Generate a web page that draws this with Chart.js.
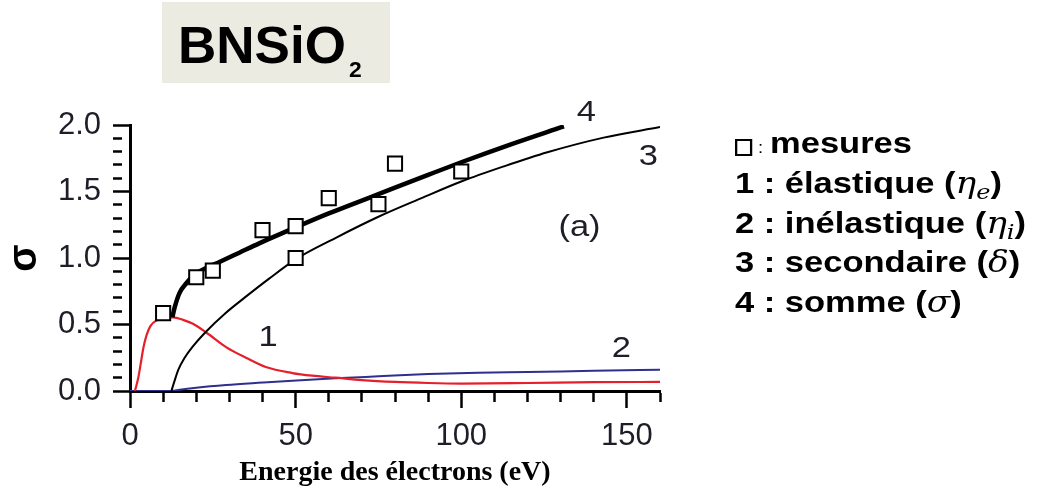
<!DOCTYPE html>
<html>
<head>
<meta charset="utf-8">
<script src="https://cdn.jsdelivr.net/npm/chart.js@4/dist/chart.umd.min.js"></script>
<style>
  html, body { margin: 0; padding: 0; background: #fff; }
  #wrap { position: relative; width: 1051px; height: 493px; overflow: hidden; }
  #c { position: absolute; left: 0; top: 0; }
  .badge { position: absolute; left: 162px; top: 2px; width: 228px; height: 81px; background: #ECEBE1; }
  .badge .t { position: absolute; left: 16px; top: 18px; white-space: nowrap;
    font: bold 51px/51px "Liberation Sans", Arial, sans-serif; color: #000;
    transform: scaleX(1.04); transform-origin: 0 0; }
  .badge .t .sub { font-size: 22px; vertical-align: -14px; margin-left: 3px; }
  .leg { position: absolute; left: 735px; height: 40px; line-height: 40px; white-space: nowrap;
    font: bold 30px/40px "Liberation Sans", Arial, sans-serif; color: #000;
    transform: scaleX(1.15); transform-origin: 0 0; }
  .leg .m { font: italic 30px/1 "DejaVu Serif", "Liberation Serif", serif; }
  .leg .m sub { font-size: 21px; vertical-align: -6px; line-height: 1; }
  .leg .sq { display: inline-block; width: 15px; height: 17px; border: 2px solid #000; box-sizing: border-box;
    vertical-align: -3px; }
  .leg .colon { font: 16px/1 "Liberation Sans", Arial, sans-serif; margin: 0 6px 0 5px; }
</style>
</head>
<body>
<div id="wrap">
  <canvas id="c" width="1051" height="493"></canvas>
  <div class="badge"><div class="t">BNSiO<span class="sub">2</span></div></div>
  <div class="leg" style="top:123px"><span class="sq"></span><span class="colon">:</span>mesures</div>
  <div class="leg" style="top:163px">1 : élastique (<span class="m">η<sub>e</sub></span>)</div>
  <div class="leg" style="top:203px">2 : inélastique (<span class="m">η<sub>i</sub></span>)</div>
  <div class="leg" style="top:242px">3 : secondaire (<span class="m">δ</span>)</div>
  <div class="leg" style="top:282px">4 : somme (<span class="m">σ</span>)</div>
</div>
<script>
// Measured total emission yield
const energyMeasured = [10, 20, 25, 40, 50, 50, 60, 75, 80, 100];
const sigmaMeasured  = [0.585, 0.855, 0.905, 1.21, 1.24, 1.0, 1.45, 1.405, 1.71, 1.65];

// Curve 1: elastic backscattering
const energyElastic = [1.5, 2.5, 3.2, 4, 5, 6.2, 8, 10.5, 13, 16, 19, 23, 29, 35, 41, 49, 55, 62, 70, 80, 90, 100, 120, 140, 160];
const etaElastic    = [0, 0.1, 0.2, 0.32, 0.42, 0.49, 0.53, 0.55, 0.553, 0.535, 0.505, 0.44, 0.33, 0.25, 0.18, 0.135, 0.115, 0.1, 0.082, 0.068, 0.06, 0.056, 0.06, 0.066, 0.068];

// Curve 2: inelastic backscattering
const energyInelastic = [0, 12.5, 15, 20, 29, 40, 49, 62, 75, 90, 105, 120, 140, 160];
const etaInelastic    = [0, 0, 0.01, 0.025, 0.045, 0.063, 0.077, 0.095, 0.11, 0.127, 0.137, 0.143, 0.152, 0.16];

// Curve 3: true secondary emission
const energySecondary = [12.5, 13.5, 14.6, 16.5, 18.8, 22.7, 28.8, 34.5, 42, 50, 62, 75, 88, 100, 113, 126, 143, 160];
const deltaSecondary  = [0, 0.08, 0.16, 0.25, 0.33, 0.44, 0.585, 0.70, 0.845, 0.99, 1.15, 1.31, 1.45, 1.575, 1.69, 1.795, 1.905, 1.985];

// Curve 4: total yield (sum)
const energySum = [12.8, 13.5, 15, 17, 19, 23, 27, 33, 39, 50, 60, 75, 90, 100, 115, 131];
const sigmaSum  = [0.555, 0.63, 0.74, 0.81, 0.865, 0.925, 0.97, 1.04, 1.11, 1.23, 1.335, 1.48, 1.625, 1.72, 1.855, 1.99];

// Axis tick labels
const xTickLabels = [0, 50, 100, 150];
const yTickLabels = ['0.0', '0.5', '1.0', '1.5', '2.0'];

// Curve annotations
const curveLabels      = ['1', '2', '3', '4', '(a)'];
const curveLabelEnergy = [41.7, 148.3, 156.5, 137.8, 135.7];
const curveLabelSigma  = [0.40, 0.32, 1.76, 2.09, 1.23];

const pts = (xs, ys) => xs.map((x, i) => ({ x, y: ys[i] }));

const TEXT = '#1e1e28';
const SANS = '"Liberation Sans", Arial, sans-serif';

const isXMajor = v => xTickLabels.includes(Math.round(v));
const yLabelFor = v => yTickLabels.find(l => Math.abs(parseFloat(l) - v) < 1e-6);

// Writes the curve numbers and the panel tag inside the plot area
const curveLabelPlugin = {
  id: 'curveLabels',
  afterDatasetsDraw(chart) {
    const { ctx, scales: { x, y } } = chart;
    curveLabels.forEach((t, i) => {
      ctx.save();
      ctx.translate(x.getPixelForValue(curveLabelEnergy[i]), y.getPixelForValue(curveLabelSigma[i]));
      ctx.scale(1.15, 1);
      ctx.fillStyle = TEXT;
      ctx.font = '30px ' + SANS;
      ctx.textAlign = 'center';
      ctx.textBaseline = 'middle';
      ctx.fillText(t, 0, 0);
      ctx.restore();
    });
  }
};

const lineDs = (label, data, color, width) => ({
  type: 'line', label, data, borderColor: color, backgroundColor: color,
  borderWidth: width, pointRadius: 0, fill: false, cubicInterpolationMode: 'monotone'
});

new Chart(document.getElementById('c'), {
  type: 'scatter',
  data: {
    datasets: [
      {
        label: 'mesures', data: pts(energyMeasured, sigmaMeasured),
        pointStyle: 'rect', pointRadius: 10, pointHoverRadius: 10,
        backgroundColor: '#fff', borderColor: '#000', borderWidth: 2, showLine: false
      },
      lineDs('somme', pts(energySum, sigmaSum), '#000', 4.5),
      lineDs('secondaire', pts(energySecondary, deltaSecondary), '#000', 2),
      lineDs('élastique', pts(energyElastic, etaElastic), '#e5202a', 2.2),
      lineDs('inélastique', pts(energyInelastic, etaInelastic), '#2e2f8e', 2)
    ]
  },
  options: {
    responsive: false,
    devicePixelRatio: 1,
    animation: false,
    events: [],
    layout: { padding: { left: 0, top: 125, right: 391, bottom: 0 } },
    plugins: { legend: { display: false }, tooltip: { enabled: false } },
    scales: {
      x: {
        type: 'linear', min: 0, max: 160,
        afterFit: s => { s.height = 102; },
        border: { display: true, color: '#000', width: 3 },
        grid: {
          drawOnChartArea: false, drawTicks: true, tickLength: 17, tickWidth: 2.5, tickColor: '#000',
          tickBorderDash: c => (c.tick && isXMajor(c.tick.value)) ? [] : [9, 100]
        },
        ticks: {
          stepSize: 10, autoSkip: false, maxRotation: 0, padding: 10,
          color: TEXT, font: { family: SANS, size: 31 },
          callback: v => isXMajor(v) ? String(Math.round(v)) : ''
        },
        title: {
          display: true, text: 'Energie des électrons (eV)', color: '#000',
          font: { family: '"Liberation Serif", "Times New Roman", serif', size: 28, weight: 'bold' },
          padding: { top: 0, bottom: 3 }
        }
      },
      y: {
        type: 'linear', min: 0, max: 2,
        afterFit: s => { s.width = 130; },
        border: { display: true, color: '#000', width: 3 },
        grid: {
          drawOnChartArea: false, drawTicks: true, tickLength: 17, tickWidth: 2.5, tickColor: '#000',
          tickBorderDash: c => (c.tick && yLabelFor(c.tick.value)) ? [] : [9, 100]
        },
        ticks: {
          stepSize: 0.1, autoSkip: false, padding: 12,
          color: TEXT, font: { family: SANS, size: 31 },
          callback: v => yLabelFor(v) || ''
        },
        title: {
          display: true, text: 'σ', color: '#000',
          font: { family: SANS, size: 40, weight: 'bold' },
          padding: { top: 1, bottom: 0 }
        }
      }
    }
  },
  plugins: [curveLabelPlugin]
});
</script>
</body>
</html>
